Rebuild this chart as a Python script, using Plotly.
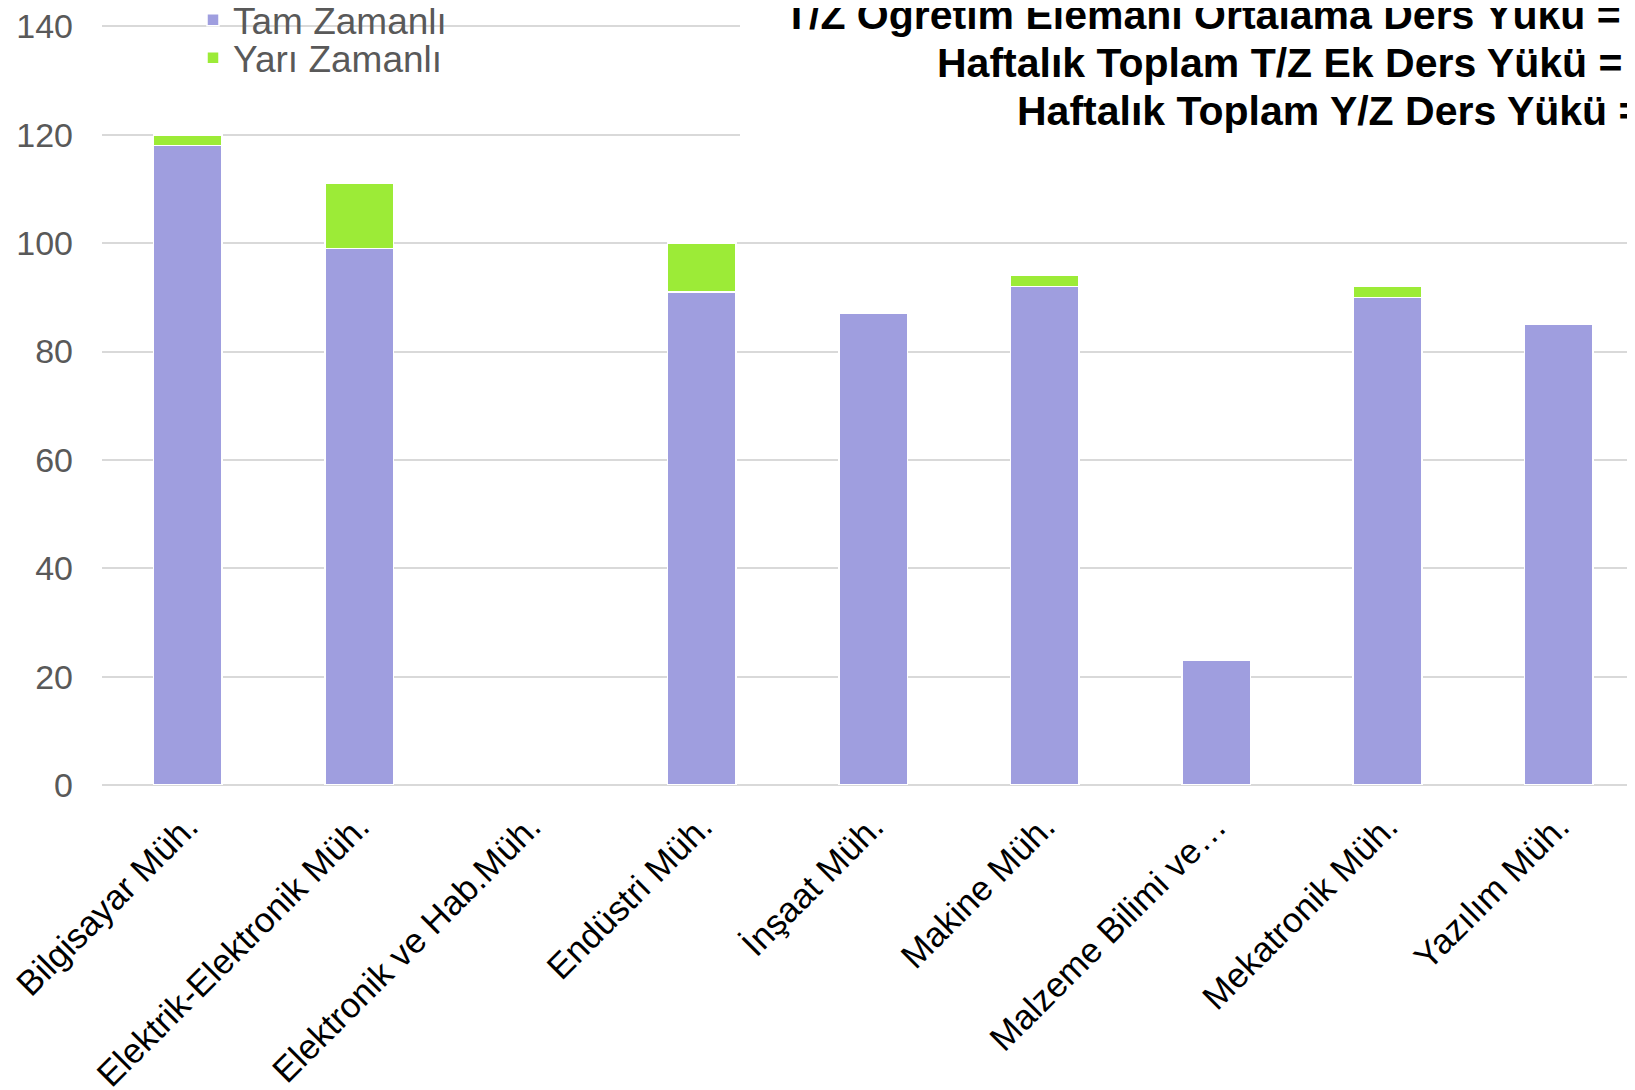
import plotly.graph_objects as go

categories = ["Bilgisayar Müh.", "Elektrik-Elektronik Müh.", "Elektronik ve Hab.Müh.",
              "Endüstri Müh.", "İnşaat Müh.", "Makine Müh.", "Malzeme Bilimi ve…",
              "Mekatronik Müh.", "Yazılım Müh."]
tam_zamanli = [118, 99, 0, 91, 87, 92, 23, 90, 85]
yari_zamanli = [2, 12, 0, 9, 0, 2, 0, 2, 0]
y_ticks = [0, 20, 40, 60, 80, 100, 120, 140]
info_lines = ["T/Z Öğretim Elemanı Ortalama Ders Yükü =",
              "Haftalık Toplam T/Z Ek Ders Yükü =",
              "Haftalık Toplam Y/Z Ders Yükü ="]

PURPLE = "#9f9edf"
GREEN = "#9ceb37"
FONT = "Liberation Sans, Arial, sans-serif"

W, H = 1635, 1090
OFF = 8            # page body margin: screen px = figure px + OFF
Y0_PX = 785.2 - OFF      # figure row of value 0
Y140_PX = 26.1 - OFF     # figure row of value 140
YMAX = 141.0
unit = (Y0_PX - Y140_PX) / 140.0
T = Y0_PX - YMAX * unit
L, R = 102 - OFF, 0
B = H - Y0_PX
plot_w = W - L - R
plot_h = H - T - B
cat_px = 171.4
XMAX = -0.5 + plot_w / cat_px

def px_x(px):
    return (px - OFF - L) / plot_w

def px_y(py):
    return (Y0_PX - (py - OFF)) / plot_h

def outline(vals):
    return [1.5 if v > 0 else 0 for v in vals]

fig = go.Figure()
fig.add_trace(go.Bar(x=categories, y=tam_zamanli, name="Tam Zamanlı",
                     marker=dict(color=PURPLE, line=dict(color="white", width=outline(tam_zamanli))),
                     width=0.4, legend="legend"))
fig.add_trace(go.Bar(x=categories, y=yari_zamanli, name="Yarı Zamanlı",
                     marker=dict(color=GREEN, line=dict(color="white", width=outline(yari_zamanli))),
                     width=0.4, legend="legend2"))

fig.update_layout(
    width=W, height=H,
    margin=dict(l=L, r=R, t=T, b=B, pad=0, autoexpand=False),
    barmode="stack",
    plot_bgcolor="white", paper_bgcolor="white",
    font=dict(family=FONT, color="#595959"),
    showlegend=True,
    legend=dict(x=px_x(193), y=px_y(20), xanchor="left", yanchor="middle",
                bgcolor="rgba(0,0,0,0)", font=dict(size=37, color="#595959", family=FONT)),
    legend2=dict(x=px_x(193), y=px_y(58), xanchor="left", yanchor="middle",
                 bgcolor="rgba(0,0,0,0)", font=dict(size=37, color="#595959", family=FONT)),
)
fig.update_xaxes(range=[-0.5, XMAX], tickangle=-45, automargin=False,
                 tickfont=dict(size=35, color="black", family=FONT),
                 showgrid=False, showline=False, ticks="", ticklabelstandoff=13,
                 ticklabeloverflow="allow")
fig.update_yaxes(range=[0, YMAX], tickvals=y_ticks, showgrid=True, gridcolor="#d9d9d9", gridwidth=2,
                 zeroline=True, zerolinecolor="#d9d9d9", zerolinewidth=2, automargin=False,
                 tickfont=dict(size=34, color="#595959", family=FONT),
                 ticks="", ticklabelstandoff=28, ticklabeloverflow="allow")

# white box behind the info text (covers gridlines)
fig.add_shape(type="rect", xref="paper", yref="paper",
              x0=px_x(740), x1=1.02, y0=px_y(150), y1=px_y(-20),
              fillcolor="white", line=dict(width=0), layer="above")

for txt, x, y in zip(info_lines, [782, 935, 1015], [14.6, 62.6, 110.5]):
    fig.add_annotation(text="<b>" + txt + "</b>", xref="paper", yref="paper",
                       x=px_x(x), y=px_y(y), xanchor="left", yanchor="middle",
                       showarrow=False, font=dict(size=41, color="black", family=FONT))

fig.write_html("out.html")
